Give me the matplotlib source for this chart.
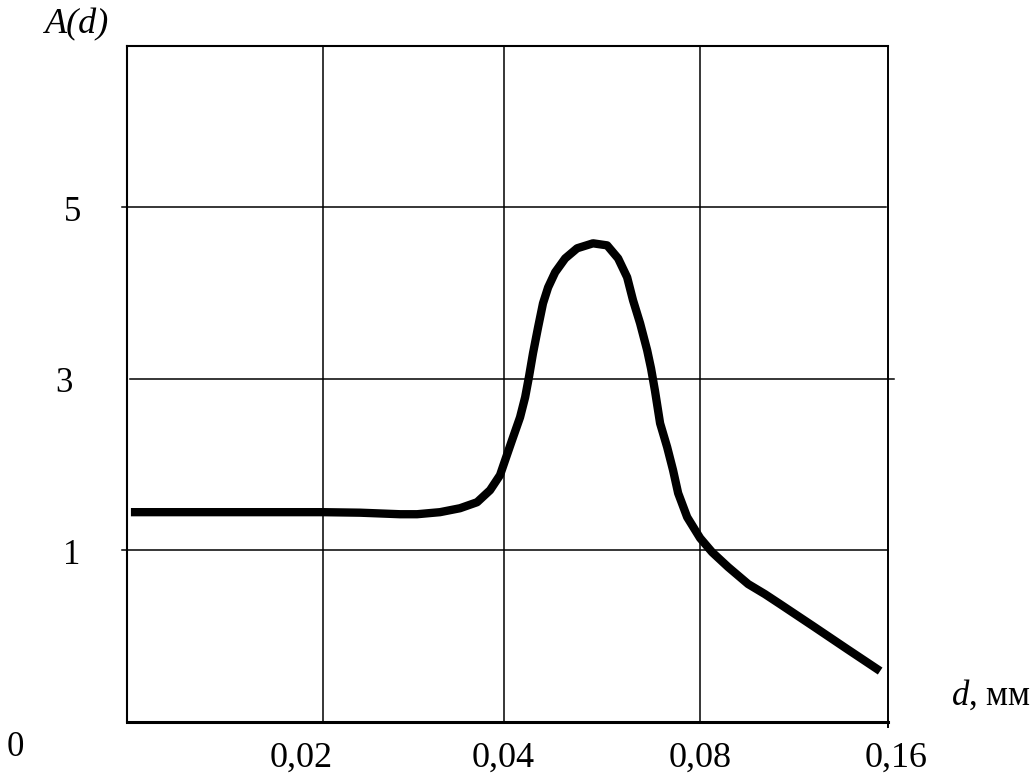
import matplotlib
matplotlib.use("Agg")
import matplotlib.pyplot as plt

plt.rcParams['font.family'] = ['Liberation Serif', 'DejaVu Serif']
plt.rcParams['mathtext.fontset'] = 'custom'
plt.rcParams['mathtext.rm'] = 'Liberation Serif'
plt.rcParams['mathtext.it'] = 'Liberation Serif:italic'

# grid positions (the d axis is not linear) and their labels
x_grid = [0.0, 1.0, 1.92, 2.92, 3.88]
x_labels = ["", "0,02", "0,04", "0,08", "0,16"]
y_grid = [1, 2, 3]
y_labels = ["1", "3", "5"]

# curve A(d) in grid units
d_vals = [0.020, 0.372, 0.678, 0.999, 1.188, 1.392, 1.479, 1.596, 1.698, 1.785,
          1.851, 1.902, 1.928, 1.963, 2.004, 2.030, 2.050, 2.070, 2.096, 2.121,
          2.147, 2.183, 2.234, 2.295, 2.376, 2.448, 2.504, 2.550, 2.580, 2.616,
          2.652, 2.672, 2.692, 2.718, 2.754, 2.784, 2.810, 2.856, 2.922, 2.983,
          3.065, 3.167, 3.253, 3.330, 3.498, 3.672, 3.840]
a_vals = [1.223, 1.223, 1.223, 1.223, 1.220, 1.211, 1.211, 1.223, 1.246, 1.281,
          1.351, 1.439, 1.526, 1.642, 1.776, 1.893, 2.015, 2.149, 2.301, 2.440,
          2.533, 2.621, 2.702, 2.761, 2.790, 2.778, 2.702, 2.592, 2.458, 2.324,
          2.167, 2.060, 1.930, 1.741, 1.602, 1.468, 1.334, 1.194, 1.072, 0.990,
          0.903, 0.804, 0.745, 0.687, 0.559, 0.425, 0.297]

fig = plt.figure(figsize=(10.34, 7.74), dpi=100)
ax = fig.add_axes([127 / 1034, 1 - 722 / 774, (888 - 127) / 1034, (722 - 46) / 774])
ax.set_xlim(0, 3.88)
ax.set_ylim(0, 3.94)

# grid
for xv in x_grid[1:4]:
    ax.axvline(xv, color="black", lw=1.1)
ax.axvline(x_grid[4], ymin=-0.008, ymax=1, color="black", lw=1.4, clip_on=False)
ax.axhline(y_grid[0], xmin=-0.006, xmax=1, color="black", lw=1.1, clip_on=False)
ax.axhline(y_grid[1], xmin=0.004, xmax=1.008, color="black", lw=1.1, clip_on=False)
ax.axhline(y_grid[2], xmin=-0.007, xmax=0.997, color="black", lw=1.1, clip_on=False)

ax.plot(d_vals, a_vals, color="black", lw=6, solid_capstyle="butt", solid_joinstyle="round",
        clip_on=False)

ax.spines["right"].set_visible(False)
ax.spines["left"].set_linewidth(1.5)
ax.spines["top"].set_linewidth(1.5)
ax.spines["bottom"].set_linewidth(2.2)

ax.set_xticks([])
ax.set_yticks([])

# tick labels
shift = [0, -0.11, 0.0, 0.0, 0.04]
for xv, lab, sh in zip(x_grid, x_labels, shift):
    if lab:
        ax.text(xv + sh, -0.21, lab, ha="center", va="center", fontsize=26)
ylab_x = [-0.28, -0.32, -0.28]
for yv, lab, lx in zip(y_grid, y_labels, ylab_x):
    ax.text(lx, yv - 0.03, lab, ha="center", va="center", fontsize=25)

fig.text(15 / 1034, 1 - 748 / 774, "0", ha="center", va="center", fontsize=25)
fig.text(77 / 1034, 1 - 25 / 774, "A(d)", ha="center", va="center", fontsize=26, style="italic")
fig.text(1031 / 1034, 1 - 695 / 774, "$d$, мм", ha="right", va="center", fontsize=25)

fig.savefig("out.png", dpi=100)
